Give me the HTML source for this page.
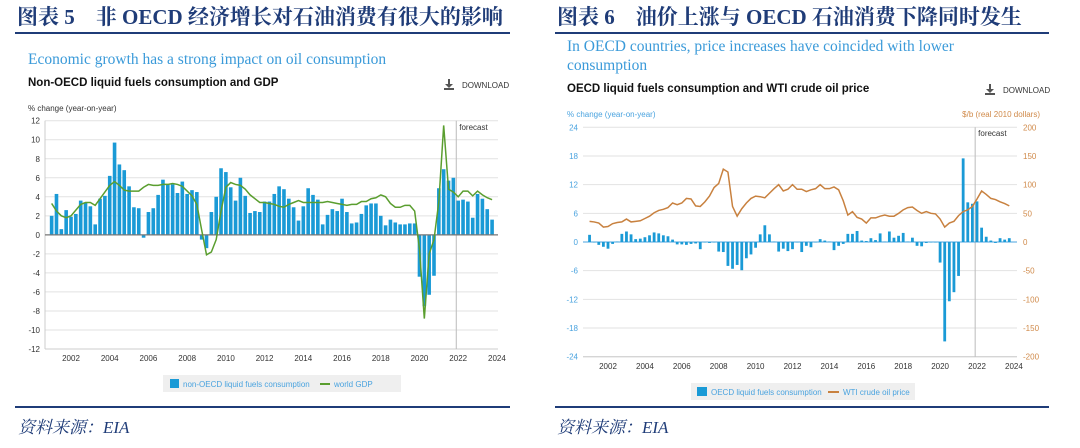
<!DOCTYPE html>
<html><head><meta charset="utf-8">
<style>
body{margin:0;background:#fff;width:1080px;height:448px;overflow:hidden}
svg{display:block}
.t{font-family:"Liberation Serif","Noto Serif CJK SC",serif;font-weight:bold;fill:#1f3c78;font-size:21px}
.s{font-family:"Liberation Serif",serif;fill:#3a9ad9;font-size:15.5px}
.h{font-family:"Liberation Sans",sans-serif;font-weight:bold;font-size:11.5px;fill:#111}
.sm{font-family:"Liberation Sans",sans-serif;font-size:8px}
.f{font-family:"Liberation Serif","Noto Serif CJK SC",serif;font-style:italic;fill:#1f3c78;font-size:17px}
</style></head>
<body>
<svg id="svg" width="1080" height="448" xmlns="http://www.w3.org/2000/svg">
<text class="t" x="17" y="24">图表 5　非 OECD 经济增长对石油消费有很大的影响</text>
<rect x="15" y="32" width="495" height="2" fill="#1f3c78"/>
<text class="t" x="557" y="24">图表 6　油价上涨与 OECD 石油消费下降同时发生</text>
<rect x="555" y="32" width="494" height="2" fill="#1f3c78"/>

<text class="s" x="28" y="64">Economic growth has a strong impact on oil consumption</text>
<text class="h" x="28" y="86">Non-OECD liquid fuels consumption and GDP</text>
<g>
<rect x="448" y="79" width="2" height="6" fill="#555"/><polygon points="445,84 453,84 449,88" fill="#555"/><rect x="444" y="88" width="10" height="2" fill="#555"/>
<text class="sm" x="462" y="88" fill="#333" font-size="8.5">DOWNLOAD</text></g>
<text class="sm" x="28" y="111" fill="#333">% change (year-on-year)</text>

<text class="s" x="567" y="51">In OECD countries, price increases have coincided with lower</text>
<text class="s" x="567" y="70">consumption</text>
<text class="h" x="567" y="92">OECD liquid fuels consumption and WTI crude oil price</text>
<g>
<rect x="989" y="84" width="2" height="6" fill="#555"/><polygon points="986,89 994,89 990,93" fill="#555"/><rect x="985" y="93" width="10" height="2" fill="#555"/>
<text class="sm" x="1003" y="93" fill="#333" font-size="8.5">DOWNLOAD</text></g>
<text class="sm" x="567" y="117" fill="#4aa3df">% change (year-on-year)</text>
<text class="sm" x="1040" y="117" fill="#d08a4a" text-anchor="end">$/b (real 2010 dollars)</text>

<g id="L"></g><g id="R"></g>

<g>
<rect x="163" y="375" width="238" height="17" fill="#efefef"/>
<rect x="170" y="379" width="9" height="9" fill="#1a9ad6"/>
<text class="sm" x="183" y="387" fill="#4aa3df">non-OECD liquid fuels consumption</text>
<rect x="320" y="383" width="10" height="2" fill="#5a9e2f"/>
<text class="sm" x="334" y="387" fill="#4aa3df">world GDP</text>
</g>
<g>
<rect x="691" y="383" width="224" height="17" fill="#efefef"/>
<rect x="697" y="387" width="10" height="9" fill="#1a9ad6"/>
<text class="sm" x="711" y="395" fill="#4aa3df">OECD liquid fuels consumption</text>
<rect x="828" y="391" width="11" height="2" fill="#c8813f"/>
<text class="sm" x="843" y="395" fill="#4aa3df">WTI crude oil price</text>
</g>

<rect x="15" y="406" width="495" height="2" fill="#1f3c78"/>
<rect x="555" y="406" width="494" height="2" fill="#1f3c78"/>
<text class="f" x="18" y="433">资料来源：EIA</text>
<text class="f" x="557" y="433">资料来源：EIA</text>
</svg>
<script>
const yearTicks=[2002,2004,2006,2008,2010,2012,2014,2016,2018,2020,2022,2024];
const leftTicks=[12,10,8,6,4,2,0,-2,-4,-6,-8,-10,-12];
const nonOecdCons=[2.0,4.3,0.6,2.6,1.9,2.2,3.6,3.4,3.0,1.1,3.8,4.1,6.2,9.7,7.4,6.8,5.1,2.9,2.8,-0.3,2.4,2.8,4.2,5.8,5.3,5.3,4.4,5.6,4.3,4.7,4.5,-0.5,-1.4,2.4,4.0,7.0,6.6,5.0,3.6,6.0,4.1,2.3,2.5,2.4,3.5,3.5,4.3,5.1,4.8,3.8,2.9,1.5,3.0,4.9,4.2,3.7,1.1,2.1,2.7,2.5,3.8,2.4,1.2,1.3,2.2,3.1,3.3,3.3,2.0,1.0,1.6,1.3,1.1,1.1,1.2,1.2,-4.4,-7.5,-6.3,-4.3,4.9,6.9,5.7,6.0,3.6,3.7,3.5,1.8,4.3,3.8,2.7,1.6];
const worldGdp=[3.3,2.5,2.0,1.8,2.0,2.6,3.2,3.4,3.4,3.1,3.8,4.5,5.2,5.6,5.2,4.7,4.6,4.6,4.6,5.0,5.3,5.2,5.2,5.3,5.3,5.4,5.3,5.1,4.6,4.1,3.2,0.5,-2.1,-1.8,-0.5,2.5,5.0,5.5,5.3,5.2,4.8,4.2,3.8,3.4,3.4,3.3,3.2,3.0,2.9,3.2,3.4,3.6,3.4,3.4,3.4,3.4,3.4,3.5,3.4,3.3,3.2,3.1,3.2,3.2,3.5,3.5,3.8,3.9,4.2,4.0,3.3,2.9,2.9,3.1,3.1,2.5,-1.5,-8.8,-2.0,-0.5,3.5,11.5,4.8,4.5,4.0,4.6,4.6,4.1,4.6,4.2,3.9,3.7];
const rightLeftTicks=[24,18,12,6,0,-6,-12,-18,-24];
const rightRightTicks=[200,150,100,50,0,-50,-100,-150,-200];
const oecdCons=[1.5,0,-0.6,-1.0,-1.4,-0.4,0.1,1.7,2.2,1.6,0.6,0.7,1.0,1.4,2.0,1.8,1.4,1.2,0.5,-0.5,-0.5,-0.6,-0.4,-0.3,-1.5,-0.1,-0.2,-0.1,-2.0,-2.1,-5.0,-5.6,-4.8,-5.9,-3.4,-2.6,-1.2,1.6,3.5,1.6,0.1,-2.0,-1.4,-1.9,-1.5,-0.1,-2.1,-0.8,-1.1,-0.1,0.6,0.3,0.1,-1.7,-0.8,-0.4,1.7,1.7,2.3,0.3,0.2,0.8,0.4,1.8,0.1,2.2,0.9,1.3,1.9,0.1,0.9,-0.8,-0.9,-0.2,-0.1,-0.1,-4.3,-20.8,-12.4,-10.5,-7.1,17.5,8.3,8.0,8.5,3.0,1.1,0.3,-0.2,0.8,0.5,0.8];
const wtiPrice=[36,35,33,26,27,32,34,35,40,35,36,37,41,45,51,55,57,60,68,65,68,76,75,63,62,70,80,95,102,127,122,62,45,58,68,76,80,79,77,85,93,100,89,92,100,92,92,88,91,93,100,93,93,96,91,72,47,53,43,40,33,42,42,45,47,45,45,50,56,60,61,55,50,53,50,49,40,26,33,36,46,53,56,62,75,89,83,76,74,70,67,63];
const startYear=2001, forecastYear=2021.9;
const NS='http://www.w3.org/2000/svg';
function mk(p,tag,at){const e=document.createElementNS(NS,tag);for(const k in at)e.setAttribute(k,at[k]);p.appendChild(e);return e;}

// LEFT
(function(){
const g=document.getElementById('L');
const x0=45,x1=498,yTop=120.7,yBot=349;
const xs=y=>71+(y-2002)*19.36;
const ys=v=>yTop+(12-v)*(yBot-yTop)/24;
leftTicks.forEach(t=>{
 const l=mk(g,'line',{x1:x0,x2:x1,y1:ys(t),y2:ys(t),stroke:'#e2e2e2','stroke-width':1});
 
 
 const tx=mk(g,'text',{x:40,y:ys(t)+3,'text-anchor':'end',class:'sm',fill:'#333'});tx.textContent=t;
 
 
});
yearTicks.forEach(yr=>{
 const tx=mk(g,'text',{x:xs(yr),y:361,'text-anchor':'middle',class:'sm',fill:'#333'});tx.textContent=yr;
 
 
});
mk(g,'line',{x1:x0,x2:x0,y1:yTop,y2:yBot,stroke:'#ccc'});
mk(g,'line',{x1:x0,x2:x1,y1:yBot,y2:yBot,stroke:'#ccc'});
const fl=mk(g,'line',{x1:xs(forecastYear),x2:xs(forecastYear),y1:yTop,y2:yBot,stroke:'#bbb'});


const ft=mk(g,'text',{x:xs(forecastYear)+3,y:130,class:'sm',fill:'#333'});ft.textContent='forecast';


nonOecdCons.forEach((v,i)=>{
 const cx=xs(startYear+i/4);
 const r=mk(g,'rect',{x:cx-1.8,y:Math.min(ys(v),ys(0)),width:3.6,height:Math.abs(ys(v)-ys(0)),fill:'#1a9ad6'});
 
 
});
mk(g,'line',{x1:x0,x2:x1,y1:ys(0),y2:ys(0),stroke:'#777','stroke-width':1.2});
const pl=mk(g,'polyline',{points:worldGdp.map((v,i)=>xs(startYear+i/4)+','+ys(v)).join(' '),fill:'none',stroke:'#5a9e2f','stroke-width':1.5});


})();

// RIGHT
(function(){
const g=document.getElementById('R');
const x0=583,x1=1017,yTop=127.3,yBot=356.7;
const xs=y=>608+(y-2002)*18.45;
const ys=v=>yTop+(24-v)*(yBot-yTop)/48;
const yr2=v=>yTop+(200-v)*(yBot-yTop)/400;
rightLeftTicks.forEach((t,k)=>{
 const l=mk(g,'line',{x1:x0,x2:x1,y1:ys(t),y2:ys(t),stroke:'#e2e2e2','stroke-width':1});
 
 
 const tx=mk(g,'text',{x:578,y:ys(t)+3,'text-anchor':'end',class:'sm',fill:'#4aa3df'});tx.textContent=t;
 
 
});
rightRightTicks.forEach(t=>{
 const tx=mk(g,'text',{x:1023,y:yr2(t)+3,class:'sm',fill:'#d08a4a'});tx.textContent=t;
 
 
});
yearTicks.forEach(yr=>{
 const tx=mk(g,'text',{x:xs(yr),y:369,'text-anchor':'middle',class:'sm',fill:'#333'});tx.textContent=yr;
 
 
});
mk(g,'line',{x1:x0,x2:x1,y1:yBot,y2:yBot,stroke:'#ccc'});
const fl=mk(g,'line',{x1:xs(forecastYear),x2:xs(forecastYear),y1:yTop,y2:yBot,stroke:'#bbb'});


const ft=mk(g,'text',{x:xs(forecastYear)+3,y:136,class:'sm',fill:'#333'});ft.textContent='forecast';


mk(g,'line',{x1:x0,x2:x1,y1:ys(0),y2:ys(0),stroke:'#4aa3df','stroke-width':1});
oecdCons.forEach((v,i)=>{
 const cx=xs(startYear+i/4);
 const r=mk(g,'rect',{x:cx-1.4,y:Math.min(ys(v),ys(0)),width:2.8,height:Math.max(0.5,Math.abs(ys(v)-ys(0))),fill:'#1a9ad6'});
 
 
});
const pl=mk(g,'polyline',{points:wtiPrice.map((v,i)=>xs(startYear+i/4)+','+yr2(v)).join(' '),fill:'none',stroke:'#c8813f','stroke-width':1.5});


})();
</script>
</body></html>
